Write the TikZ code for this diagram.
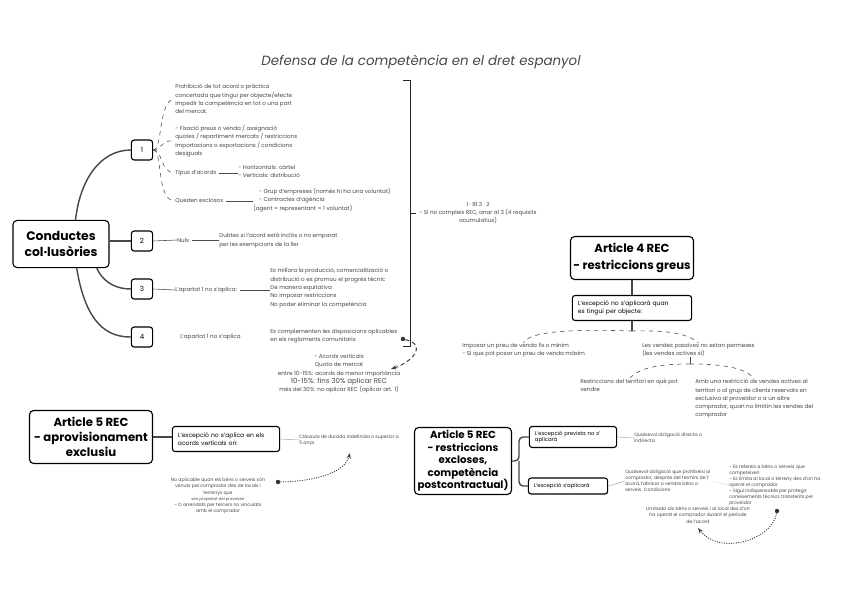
\documentclass[tikz,border=0pt]{standalone}
\usepackage{fontspec}
\setmainfont{Poppins}
\usetikzlibrary{arrows.meta,positioning}

\tikzset{
  hub/.style={draw,thick,rounded corners=3pt,align=center,inner sep=2pt,
    font=\bfseries\fontsize{8.3}{11.5}\selectfont},
  numbox/.style={draw,thick,rounded corners=2pt,minimum width=0.53cm,
    minimum height=0.5cm,inner sep=0pt,font=\fontsize{5}{6}\selectfont},
  subbox/.style={draw,thick,rounded corners=2pt,align=left,inner xsep=4pt,
    inner ysep=2pt,font=\fontsize{4.3}{5.8}\selectfont},
  note/.style={align=left,inner sep=0pt,text=black!72,
    font=\fontsize{4}{5.9}\selectfont},
  small note/.style={note,font=\fontsize{3.3}{4.3}\selectfont},
  link/.style={gray!55!black,line width=1pt},
  thin link/.style={gray!60,line width=0.4pt},
  branch/.style={black!65,dashed,line width=0.45pt},
  dotlink/.style={black!75,densely dotted,line width=0.7pt,-{Stealth[length=4pt]}},
  dot/.style={circle,fill=black!80,inner sep=0pt,minimum size=0.11cm},
}

\begin{document}
\begin{tikzpicture}[x=0.025cm,y=-0.025cm]
\useasboundingbox (0,0) rectangle (848,599);
\fill[white] (0,0) rectangle (848,599);

% title
\node[text=black!72,font=\itshape\fontsize{9.5}{11}\selectfont] (title) at (421,62)
  {Defensa de la competència en el dret espanyol};

% conductes col.lusories
\node[hub,minimum width=2.4cm,minimum height=1.18cm,font=\bfseries\fontsize{8.8}{12}\selectfont] (cc) at (61,244) {Conductes\\col·lusòries};
\node[numbox] (n1) at (142,150) {1};
\node[numbox] (n2) at (142,241) {2};
\node[numbox] (n3) at (142,289) {3};
\node[numbox] (n4) at (142,337) {4};

\draw[link] (cc.59) .. controls (80,180) and (100,150) .. (n1.west);
\draw[link] (cc.east |- n2.west) -- (n2.west);
\draw[link] (cc.-34) .. controls (104,284) and (118,289) .. (n3.west);
\draw[link] (cc.-57) .. controls (86,325) and (108,337) .. (n4.west);

% apartat 1
\node[note,anchor=north west] (p1) at (175,84)
  {Prohibició de tot acord o pràctica\\concertada que tingui per objecte/efecte\\impedir la competència en tot o una part\\del mercat.};
\node[note,anchor=north west] (p2) at (175,125)
  {- Fixació preus o venda / assignació\\quotes / repartiment mercats / restriccions\\importacions o exportacions / condicions\\desiguals};
\node[note,anchor=west] (p3) at (175,173) {Tipus d'acords};
\node[note,anchor=north west] (p3b) at (238,165)
  {- Horitzontals: càrtel\\- Verticals: distribució};
\node[note,anchor=west] (p4) at (175,201) {Queden exclosos};
\node[note,anchor=north west] (p4b) at (253,188)
  {\hspace{4pt}- Grup d'empreses (només hi ha una voluntat)\\\hspace{4pt}- Contractes d'agència\\(agent = representant = 1 voluntat)};

\draw[branch] (n1.east) .. controls (163,150) and (158,99) .. (p1.west);
\draw[branch] (n1.east) .. controls (163,150) and (160,139) .. (p2.west);
\draw[branch] (n1.east) .. controls (163,150) and (160,173) .. (p3.west);
\draw[branch] (n1.east) .. controls (163,150) and (156,201) .. (p4.west);
\draw[thin link,black!70] ([xshift=2pt]p3.east) -- (p3.east -| p3b.west);
\draw[thin link,black!70] ([xshift=2pt]p4.east) -- (p4.east -| p4b.west);

% apartat 2
\node[note,anchor=west] (q1) at (177,240) {Nuls};
\node[note,anchor=north west] (q1b) at (219,233)
  {Dubtes si l'acord està inclòs o no emparat\\per les exempcions de la llei};
\draw[thin link,black!70] (n2.east) -- (q1.west);
\draw[thin link,black!70] ([xshift=2pt]q1.east) -- (q1.east -| q1b.west);

% apartat 3
\node[note,anchor=west] (r1) at (175,290) {L'apartat 1 no s'aplica:};
\node[note,anchor=west] (r1b) at (270,288)
  {Es millora la producció, comercialització o\\distribució o es promou el progrés tècnic\\De manera equitativa\\No imposar restriccions\\No poder eliminar la competència};
\draw[thin link,black!70] (n3.east) -- (r1.west);
\draw[thin link,black!70] ([xshift=2pt]r1.east) -- (r1.east -| r1b.west);

% apartat 4
\node[note,anchor=west] (s1) at (180,337) {L'apartat 1 no s'aplica};
\node[note,anchor=north west] (s1b) at (270,329)
  {Es complementen les disposicions aplicables\\en els reglaments comunitaris};
\node[note,align=center,anchor=north] (s2) at (339,354)
  {- Acords verticals\\Quota de mercat\\entre 10-15\%: acords de menor importància\\{\fontsize{5}{6}\selectfont 10-15\%: fins 30\% aplicar REC}\\més del 30\%: no aplicar REC (aplicar art. 1)};

% bracket
\draw[black!85,line width=0.5pt] (403,80) -- (410,80) -- (410,346) -- (403,346);
\draw[black!85,line width=0.5pt] (410,213) -- (416,213);
\node[note,align=center,anchor=west] (br) at (419,213)
  {1 · 81.3 · 2\\- Si no compleix REC, anar al 3 (4 requisits\\acumulatius)};
\node[dot] (d0) at (403,339) {};
\draw[dotlink,densely dashed] (d0) .. controls (428,345) and (412,362) .. (391,369);

% article 4
\node[hub,minimum width=3cm,minimum height=1.075cm] (a4) at (632,258) {Article 4 REC\\- restriccions greus};
\node[subbox,text width=2.7cm,minimum height=0.625cm] (a4s) at (632,308)
  {L'excepció no s'aplicarà quan\\es tingui per objecte:};
\draw[link] (a4) -- (a4s);
\coordinate (j1) at (632,331);
\draw[link] (a4s) -- (j1);
\node[note,anchor=north west] (u1) at (462,343)
  {Imposar un preu de venda fix o mínim\\- Sí que pot posar un preu de venda màxim};
\node[note,anchor=north west] (u2) at (642,343)
  {Les vendes passives no estan permeses\\(les vendes actives sí)};
\draw[branch] (j1) .. controls (575,329) and (528,331) .. (u1.north);
\draw[branch] (j1) .. controls (670,330) and (688,334) .. (u2.north);
\coordinate (j2) at (690,364);
\draw[thin link,black!70] (u2.south -| j2) -- (j2);
\node[note,anchor=north west] (u3) at (580,379)
  {Restriccions del territori en què pot\\vendre};
\node[note,anchor=north west] (u4) at (695,379)
  {Amb una restricció de vendes actives al\\territori o al grup de clients reservats en\\exclusiva al proveïdor o a un altre\\comprador, quan no limitin les vendes del\\comprador};
\draw[branch] (j2) .. controls (665,364) and (640,366) .. (u3.north);
\draw[branch] (j2) .. controls (715,364) and (745,366) .. (u4.north);

% article 5 aprovisionament
\node[hub,minimum width=3.075cm,minimum height=1.325cm,font=\bfseries\fontsize{8.3}{10.6}\selectfont] (a5a) at (91,437) {Article 5 REC\\- aprovisionament\\exclusiu};
\node[subbox,text width=2.4cm,minimum height=0.625cm] (a5as) at (226,439)
  {L'excepció no s'aplica en els\\acords verticals on:};
\draw[link] (a5a.east) -- (a5a.east -| a5as.west);
\node[small note,anchor=west] (v1) at (299,440)
  {Clàusula de durada indefinida o superior a\\5 anys};
\draw[thin link] (a5as.east) -- (v1.west);
\node[small note,align=center,anchor=north] (v2) at (218,478)
  {No aplicable quan els béns o serveis són\\venuts pel comprador des de locals i\\terrenys que\\{\fontsize{2.8}{3.6}\selectfont són propietat del proveïdor}\\- O arrendats per tercers no vinculats\\amb el comprador};
\node[dot] (d1) at (278,482) {};
\draw[dotlink] (d1) .. controls (318,481) and (345,472) .. (350,453);

% article 5 restriccions excloses
\node[hub,minimum width=2.425cm,minimum height=1.675cm,font=\bfseries\fontsize{7.3}{8.9}\selectfont] (a5r) at (463,461)
  {Article 5 REC\\- restriccions\\excloses,\\competència\\postcontractual)};
\node[subbox,text width=1.9cm,minimum height=0.525cm,font=\fontsize{3.8}{4.8}\selectfont] (b1) at (573,437)
  {L'excepció prevista no s'\\aplicarà};
\node[subbox,text width=1.7cm,minimum height=0.4cm,font=\fontsize{3.8}{4.8}\selectfont] (b2) at (568,486)
  {L'excepció s'aplicarà};
\coordinate (fork) at (519,461);
\draw[link,rounded corners=3pt] (a5r.east) -- (fork) |- (b1.west);
\draw[link,rounded corners=3pt] (fork) |- (b2.west);

\node[small note,anchor=west] (w1) at (634,438)
  {Qualsevol obligació directa o\\indirecta};
\draw[thin link] (b1.east) -- (w1.west);
\node[small note,anchor=west] (w2) at (625,481)
  {Qualsevol obligació que prohibeixi al\\comprador, després del termini de l'\\acord, fabricar o vendre béns o\\serveis. Condicions:};
\draw[thin link] (b2.east) -- (w2.west);
\node[small note,anchor=west] (w3) at (729,485)
  {- Es refereix a béns o serveis que\\competeixen\\- Es limita al local o terreny des d'on ha\\operat el comprador\\- Sigui indispensable per protegir\\coneixements tècnics transferits pel\\proveïdor};
\draw[thin link,densely dotted] (w2.east) -- (w3.west);
\node[small note,align=center,anchor=north] (w4) at (698,507)
  {Limitada als béns o serveis i al local des d'on\\ha operat el comprador durant el període\\de l'acord};
\node[dot] (d2) at (777,511) {};
\draw[dotlink] (d2) .. controls (772,540) and (720,556) .. (698,528);
\end{tikzpicture}
\end{document}
